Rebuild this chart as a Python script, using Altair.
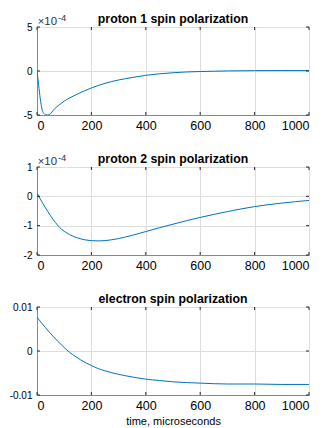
import altair as alt
import pandas as pd

# ---- data ----
t1 = [0, 6, 12, 18, 25, 32, 40, 50, 60, 86, 100, 125, 150, 175, 200, 250, 300, 350,
      400, 450, 500, 550, 600, 700, 800, 900, 1000]
p1 = [0.0, -1.6, -3.15, -4.3, -4.8, -4.97, -5.0, -4.85, -4.45, -3.75, -3.42, -2.98, -2.6,
      -2.25, -1.93, -1.4, -1.02, -0.74, -0.49, -0.32, -0.2, -0.11, -0.06, 0.01, 0.04, 0.05, 0.05]
p1 = [v * 1e-4 for v in p1]

t2 = [0, 20, 40, 60, 90, 110, 130, 150, 175, 200, 225, 250, 275, 300, 350, 400, 450,
      500, 550, 600, 700, 800, 900, 1000]
p2 = [0.11, -0.22, -0.52, -0.80, -1.12, -1.25, -1.35, -1.42, -1.48, -1.51, -1.52, -1.51,
      -1.48, -1.44, -1.33, -1.20, -1.07, -0.95, -0.83, -0.72, -0.52, -0.35, -0.23, -0.14]
p2 = [v * 1e-4 for v in p2]

t3 = [0, 15, 30, 45, 60, 75, 90, 105, 120, 140, 160, 180, 200, 225, 250, 300, 350, 400,
      450, 500, 600, 700, 800, 900, 1000]
p3 = [0.0077, 0.0065, 0.0054, 0.0043, 0.0033, 0.0023, 0.0014, 0.0005, -0.0003, -0.0012,
      -0.0020, -0.0027, -0.0033, -0.0040, -0.0045, -0.0053, -0.0059, -0.0064, -0.0067,
      -0.0070, -0.0073, -0.0075, -0.0075, -0.0076, -0.0076]

x_ticks = [0, 200, 400, 600, 800, 1000]
titles = ["proton 1 spin polarization", "proton 2 spin polarization", "electron spin polarization"]
y_domains = [[-5e-4, 5e-4], [-2e-4, 1e-4], [-0.01, 0.01]]
y_ticks = [[-5e-4, 0, 5e-4], [-2e-4, -1e-4, 0, 1e-4], [-0.01, 0, 0.01]]
exp_label = ["×10", "-4"]
x_title = "time, microseconds"

W, H = 272, 88
FONT = "Liberation Sans"
LINE = "#0072BD"
AX = "#262626"
GRID = "#dcdcdc"


def panel(t, v, title, ydom, yt, scaled, last):
    df = pd.DataFrame({"t": t, "v": v})
    if scaled:
        lab = "round(datum.value*1e4) + ''"
    else:
        lab = "'' + round(datum.value*100)/100"
    x_enc = alt.X("t:Q", scale=alt.Scale(domain=[0, 1000], nice=False),
                  axis=alt.Axis(values=x_ticks, format="d", grid=True, ticks=False,
                                title=x_title if last else None, titleFontWeight=400,
                                labelFontSize=12.5, labelPadding=4, titlePadding=4))
    y_enc = alt.Y("v:Q", scale=alt.Scale(domain=ydom, nice=False, zero=False),
                  axis=alt.Axis(values=yt, labelExpr=lab, grid=True, ticks=False,
                                title=None, labelPadding=5, minExtent=32, maxExtent=32))
    line = alt.Chart(df).mark_line(color=LINE, strokeWidth=1, clip=True,
                                   interpolate="monotone").encode(x=x_enc, y=y_enc)

    xt = pd.DataFrame({"t": x_ticks})
    ytd = pd.DataFrame({"v": yt})
    tk = dict(color=AX, strokeWidth=1)
    bot = alt.Chart(xt).mark_rule(**tk).encode(x=x_enc, y=alt.value(H), y2=alt.value(H - 3))
    top = alt.Chart(xt).mark_rule(**tk).encode(x=x_enc, y=alt.value(0), y2=alt.value(3))
    lef = alt.Chart(ytd).mark_rule(**tk).encode(y=y_enc, x=alt.value(0), x2=alt.value(3))
    rig = alt.Chart(ytd).mark_rule(**tk).encode(y=y_enc, x=alt.value(W), x2=alt.value(W - 3))

    one = pd.DataFrame({"a": [0]})
    ttl = alt.Chart(one).mark_text(align="center", baseline="alphabetic", font=FONT,
                                   fontSize=12.3, fontWeight="bold", color="#000000").encode(
        x=alt.value(W / 2), y=alt.value(-4.5), text=alt.value(title))

    layers = [line, bot, top, lef, rig, ttl]
    if scaled:
        layers.append(alt.Chart(one).mark_text(align="left", baseline="alphabetic", font=FONT,
                                               fontSize=11.4, color="#333333").encode(
            x=alt.value(0.7), y=alt.value(-2.3), text=alt.value(exp_label[0])))
        layers.append(alt.Chart(one).mark_text(align="left", baseline="alphabetic", font=FONT,
                                               fontSize=9.4, color="#333333").encode(
            x=alt.value(21), y=alt.value(-6.3), text=alt.value(exp_label[1])))
    return alt.layer(*layers).properties(width=W, height=H)


c1 = panel(t1, p1, titles[0], y_domains[0], y_ticks[0], True, False)
c2 = panel(t2, p2, titles[1], y_domains[1], y_ticks[1], True, False)
c3 = panel(t3, p3, titles[2], y_domains[2], y_ticks[2], False, True)

chart = alt.vconcat(c1, c2, c3, spacing=20).properties(
    padding={"left": -4, "top": 4, "right": 0, "bottom": 0}
).configure_view(stroke=AX, strokeWidth=1).configure_axis(
    labelFont=FONT, labelFontSize=12, labelColor=AX, titleFont=FONT, titleFontSize=12.3,
    titleColor=AX, gridColor=GRID, gridWidth=1,
    domainColor=AX, labelFlush=False
).configure(background="white")

chart.save("out.html", embed_options={"renderer": "svg", "actions": False})
